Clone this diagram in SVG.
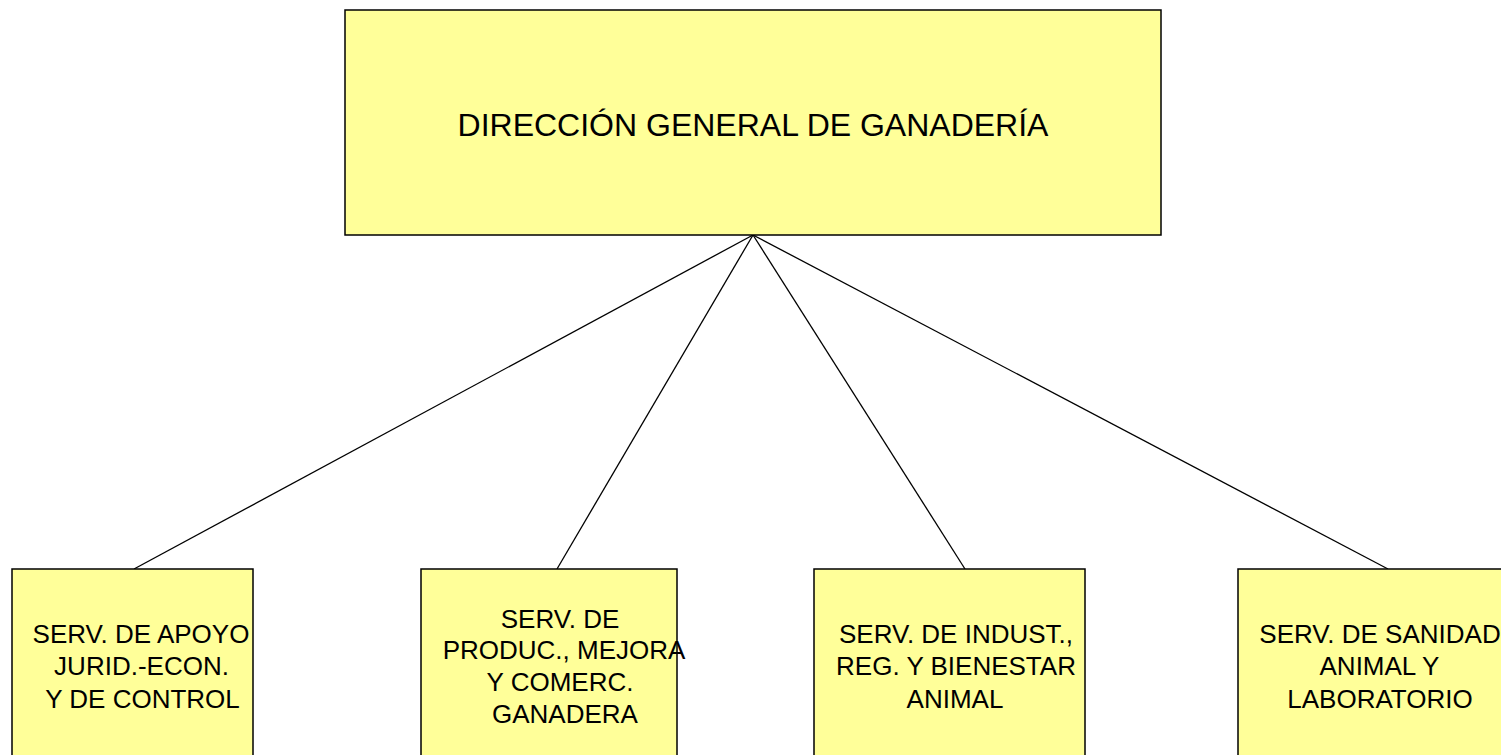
<svg xmlns="http://www.w3.org/2000/svg" width="1501" height="755" viewBox="0 0 1501 755">
<style>
.box{fill:#FFFF99;stroke:#000;stroke-width:1.5}
.t{font-family:"Liberation Sans",Arial,sans-serif;fill:#000;text-anchor:middle}
.big{font-size:32px}
.sm{font-size:26px}
.conn line{stroke:#000;stroke-width:1.3}
</style>
<rect width="1501" height="755" fill="#fff"/>
<g class="conn" id="connectors">
<line x1="753" y1="235" x2="134" y2="569"/>
<line x1="753" y1="235" x2="557" y2="569"/>
<line x1="753" y1="235" x2="965" y2="569"/>
<line x1="753" y1="235" x2="1388" y2="569"/>
</g>
<g id="dg">
<rect class="box" x="345" y="10" width="816" height="225"/>
<text class="t big" x="753" y="136">DIRECCIÓN GENERAL DE GANADERÍA</text>
</g>
<g id="apoyo">
<rect class="box" x="12" y="569" width="241" height="200"/>
<text class="t sm" x="141" y="643">SERV. DE APOYO</text>
<text class="t sm" x="141.5" y="675">JURID.-ECON.</text>
<text class="t sm" x="142.5" y="708">Y DE CONTROL</text>
</g>
<g id="produc">
<rect class="box" x="421" y="569" width="256" height="200"/>
<text class="t sm" x="560" y="628">SERV. DE</text>
<text class="t sm" x="564" y="659">PRODUC., MEJORA</text>
<text class="t sm" x="560" y="691">Y COMERC.</text>
<text class="t sm" x="565" y="723">GANADERA</text>
</g>
<g id="indust">
<rect class="box" x="814" y="569" width="271" height="200"/>
<text class="t sm" x="956" y="643">SERV. DE INDUST.,</text>
<text class="t sm" x="956" y="675">REG. Y BIENESTAR</text>
<text class="t sm" x="955" y="708">ANIMAL</text>
</g>
<g id="sanidad">
<rect class="box" x="1238" y="569" width="280" height="200"/>
<text class="t sm" x="1380" y="643">SERV. DE SANIDAD</text>
<text class="t sm" x="1379.5" y="675">ANIMAL Y</text>
<text class="t sm" x="1380" y="708">LABORATORIO</text>
</g>
</svg>
